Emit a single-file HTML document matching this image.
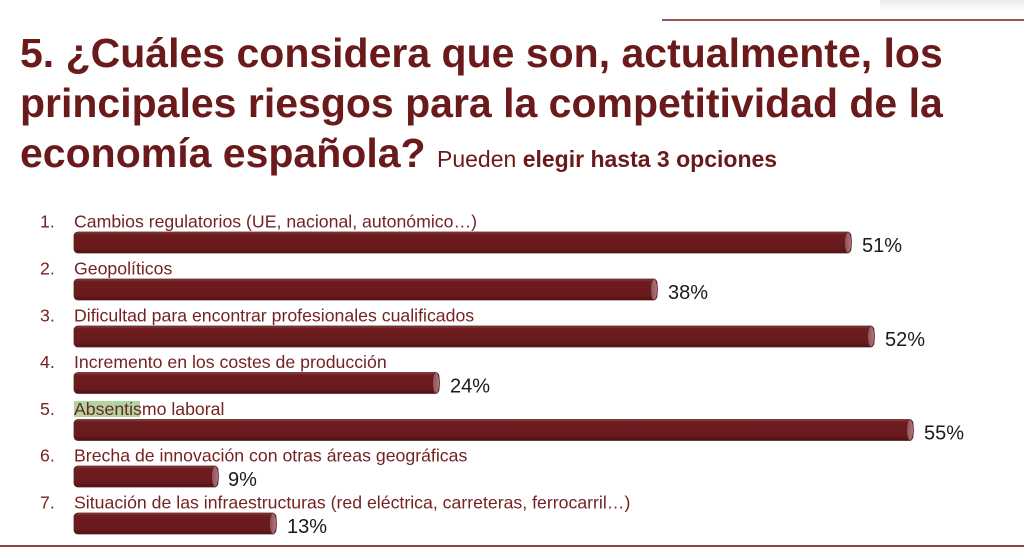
<!DOCTYPE html>
<html>
<head>
<meta charset="utf-8">
<style>
  html,body{margin:0;padding:0;background:#fff;}
  body{width:1024px;height:558px;overflow:hidden;position:relative;font-family:"Liberation Sans",Arial,sans-serif;}
  svg{position:absolute;left:0;top:0;}
</style>
</head>
<body>
<svg width="1024" height="558" viewBox="0 0 1024 558" xmlns="http://www.w3.org/2000/svg">
  <defs>
    <linearGradient id="bar" x1="0" y1="0" x2="0" y2="1">
      <stop offset="0" stop-color="#8c4446"/>
      <stop offset="0.12" stop-color="#6e1c1f"/>
      <stop offset="0.8" stop-color="#681a1c"/>
      <stop offset="1" stop-color="#4c1013"/>
    </linearGradient>
    <linearGradient id="cap" x1="0" y1="0" x2="1" y2="0">
      <stop offset="0" stop-color="#8f4e54"/>
      <stop offset="1" stop-color="#b27880"/>
    </linearGradient>
    <linearGradient id="shadow" x1="0" y1="0" x2="0" y2="1">
      <stop offset="0" stop-color="#e6e6e6"/>
      <stop offset="1" stop-color="#ffffff"/>
    </linearGradient>
  </defs>

  <!-- top-right faint shadow -->
  <rect x="880" y="0" width="144" height="12" fill="url(#shadow)" opacity="0.8"/>
  <!-- top rule -->
  <rect x="662" y="19" width="362" height="2" fill="#9a5555"/>
  <!-- bottom rule -->
  <rect x="0" y="545" width="1024" height="2" fill="#8e4446"/>

  <!-- Title -->
  <g font-family="'Liberation Sans',Arial,sans-serif" font-weight="bold" fill="#6b1a1c" font-size="41">
    <text x="20" y="67">5. ¿Cuáles considera que son, actualmente, los</text>
    <text x="20" y="117">principales riesgos para la competitividad de la</text>
    <text x="20" y="167">economía española?<tspan x="437" font-size="23" font-weight="normal">Pueden </tspan><tspan font-size="23" font-weight="bold">elegir hasta 3 opciones</tspan></text>
  </g>

  <!-- highlight -->
  <rect x="74" y="401" width="66" height="16" fill="#afd6a2"/>

  <!-- Labels -->
  <g font-family="'Liberation Sans',Arial,sans-serif" font-size="17.7" fill="#742323">
    <text x="40" y="227.5">1.</text>
    <text x="74" y="227.5">Cambios regulatorios (UE, nacional, autonómico…)</text>
    <text x="40" y="274.5">2.</text>
    <text x="74" y="274.5">Geopolíticos</text>
    <text x="40" y="321.5">3.</text>
    <text x="74" y="321.5">Dificultad para encontrar profesionales cualificados</text>
    <text x="40" y="368">4.</text>
    <text x="74" y="368">Incremento en los costes de producción</text>
    <text x="40" y="415">5.</text>
    <text x="74" y="415">Absentismo laboral</text>
    <text x="40" y="461.5">6.</text>
    <text x="74" y="461.5">Brecha de innovación con otras áreas geográficas</text>
    <text x="40" y="508.5">7.</text>
    <text x="74" y="508.5">Situación de las infraestructuras (red eléctrica, carreteras, ferrocarril…)</text>
  </g>

  <!-- Bars -->
  <g stroke="#5a2224" stroke-width="0.8">
    <rect x="74" y="232" width="777" height="21" rx="4" fill="url(#bar)"/>
    <ellipse cx="848" cy="242.5" rx="3.5" ry="10.5" fill="url(#cap)"/>

    <rect x="74" y="279" width="583" height="21" rx="4" fill="url(#bar)"/>
    <ellipse cx="654" cy="289.5" rx="3.5" ry="10.5" fill="url(#cap)"/>

    <rect x="74" y="326" width="800" height="21" rx="4" fill="url(#bar)"/>
    <ellipse cx="871" cy="336.5" rx="3.5" ry="10.5" fill="url(#cap)"/>

    <rect x="74" y="372.5" width="365" height="21" rx="4" fill="url(#bar)"/>
    <ellipse cx="436" cy="383" rx="3.5" ry="10.5" fill="url(#cap)"/>

    <rect x="74" y="419.5" width="839" height="21" rx="4" fill="url(#bar)"/>
    <ellipse cx="910" cy="430" rx="3.5" ry="10.5" fill="url(#cap)"/>

    <rect x="74" y="466" width="144" height="21" rx="4" fill="url(#bar)"/>
    <ellipse cx="215" cy="476.5" rx="3.5" ry="10.5" fill="url(#cap)"/>

    <rect x="74" y="513" width="202" height="21" rx="4" fill="url(#bar)"/>
    <ellipse cx="273" cy="523.5" rx="3.5" ry="10.5" fill="url(#cap)"/>
  </g>

  <!-- Percentages -->
  <g font-family="'Liberation Sans',Arial,sans-serif" font-size="20" fill="#1a1a1a">
    <text x="862" y="252">51%</text>
    <text x="668" y="299">38%</text>
    <text x="885" y="346">52%</text>
    <text x="450" y="392.5">24%</text>
    <text x="924" y="439.5">55%</text>
    <text x="228" y="486">9%</text>
    <text x="287" y="533">13%</text>
  </g>
</svg>
</body>
</html>
